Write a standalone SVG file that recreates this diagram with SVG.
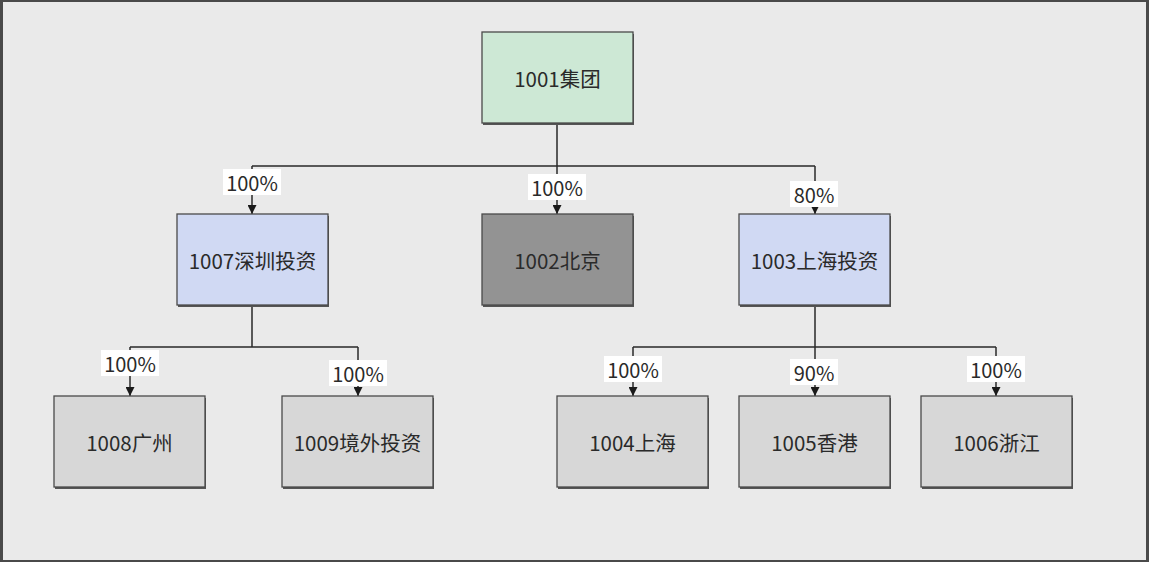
<svg xmlns="http://www.w3.org/2000/svg" width="1149" height="562" viewBox="0 0 1149 562">
<defs>
<marker id="arr" viewBox="0 0 10 10" refX="10" refY="5" markerWidth="9" markerHeight="9" markerUnits="userSpaceOnUse" orient="auto">
<path d="M0,0 L10,5 L0,10 z" fill="#1a1a1a"/>
</marker>
</defs>
<style>
.box{stroke:#4a4a4a;stroke-width:1.3}
.sh{fill:#555}
.t{font-family:"Microsoft YaHei","Noto Sans CJK SC","Noto Sans",sans-serif;font-size:20.5px;fill:#2a2a2a;text-anchor:middle;dominant-baseline:central}
.lbl{font-family:"Microsoft YaHei","Noto Sans CJK SC","Noto Sans",sans-serif;font-size:20px;fill:#2a2a2a;text-anchor:middle;dominant-baseline:central}
.lb{fill:#ffffff}
.c{fill:none;stroke:#2a2a2a;stroke-width:1.5}
.green{fill:#cde8d5}
.blue{fill:#d0d9f3}
.dark{fill:#939393}
.grey{fill:#d7d7d7}
</style>
<rect x="0" y="0" width="1149" height="562" fill="#4a4a4a"/>
<rect x="3" y="2" width="1143" height="558" fill="#eaeaea"/>

<g id="connectors">
<path class="c" d="M557,123 V166 M252,166 H815"/>
<path class="c" d="M252,166 V214" marker-end="url(#arr)"/>
<path class="c" d="M557,166 V214" marker-end="url(#arr)"/>
<path class="c" d="M815,166 V214" marker-end="url(#arr)"/>
<path class="c" d="M252,305 V347 M130,347 H358"/>
<path class="c" d="M130,347 V396" marker-end="url(#arr)"/>
<path class="c" d="M358,347 V396" marker-end="url(#arr)"/>
<path class="c" d="M815,305 V347 M633,347 H996"/>
<path class="c" d="M633,347 V396" marker-end="url(#arr)"/>
<path class="c" d="M815,347 V396" marker-end="url(#arr)"/>
<path class="c" d="M996,347 V396" marker-end="url(#arr)"/>
<g id="labels">
<rect class="lb" x="223" y="169" width="58" height="26"/><text class="lbl" x="252" y="182">100%</text>
<rect class="lb" x="528" y="174" width="58" height="26"/><text class="lbl" x="557" y="187">100%</text>
<rect class="lb" x="790" y="181" width="48" height="26"/><text class="lbl" x="814" y="194">80%</text>
<rect class="lb" x="101" y="350" width="58" height="26"/><text class="lbl" x="130" y="363">100%</text>
<rect class="lb" x="329" y="360" width="58" height="26"/><text class="lbl" x="358" y="373">100%</text>
<rect class="lb" x="604" y="356" width="58" height="26"/><text class="lbl" x="633" y="369">100%</text>
<rect class="lb" x="790" y="359" width="48" height="26"/><text class="lbl" x="814" y="372">90%</text>
<rect class="lb" x="967" y="356" width="58" height="26"/><text class="lbl" x="996" y="369">100%</text>
</g>
</g>

<g id="n1001">
<rect class="sh" x="483" y="34" width="151" height="91"/>
<rect class="box green" x="482" y="32" width="151" height="91"/>
<text class="t" x="557.5" y="78">1001集团</text>
</g>
<g id="n1007">
<rect class="sh" x="178" y="216" width="151" height="91"/>
<rect class="box blue" x="177" y="214" width="151" height="91"/>
<text class="t" x="252.5" y="260">1007深圳投资</text>
</g>
<g id="n1002">
<rect class="sh" x="483" y="216" width="151" height="91"/>
<rect class="box dark" x="482" y="214" width="151" height="91"/>
<text class="t" x="557.5" y="260">1002北京</text>
</g>
<g id="n1003">
<rect class="sh" x="740" y="216" width="151" height="91"/>
<rect class="box blue" x="739" y="214" width="151" height="91"/>
<text class="t" x="814.5" y="260">1003上海投资</text>
</g>
<g id="n1008">
<rect class="sh" x="55" y="398" width="151" height="91"/>
<rect class="box grey" x="54" y="396" width="151" height="91"/>
<text class="t" x="129.5" y="442">1008广州</text>
</g>
<g id="n1009">
<rect class="sh" x="283" y="398" width="151" height="91"/>
<rect class="box grey" x="282" y="396" width="151" height="91"/>
<text class="t" x="357.5" y="442">1009境外投资</text>
</g>
<g id="n1004">
<rect class="sh" x="558" y="398" width="151" height="91"/>
<rect class="box grey" x="557" y="396" width="151" height="91"/>
<text class="t" x="632.5" y="442">1004上海</text>
</g>
<g id="n1005">
<rect class="sh" x="740" y="398" width="151" height="91"/>
<rect class="box grey" x="739" y="396" width="151" height="91"/>
<text class="t" x="814.5" y="442">1005香港</text>
</g>
<g id="n1006">
<rect class="sh" x="922" y="398" width="151" height="91"/>
<rect class="box grey" x="921" y="396" width="151" height="91"/>
<text class="t" x="996.5" y="442">1006浙江</text>
</g>
</svg>
